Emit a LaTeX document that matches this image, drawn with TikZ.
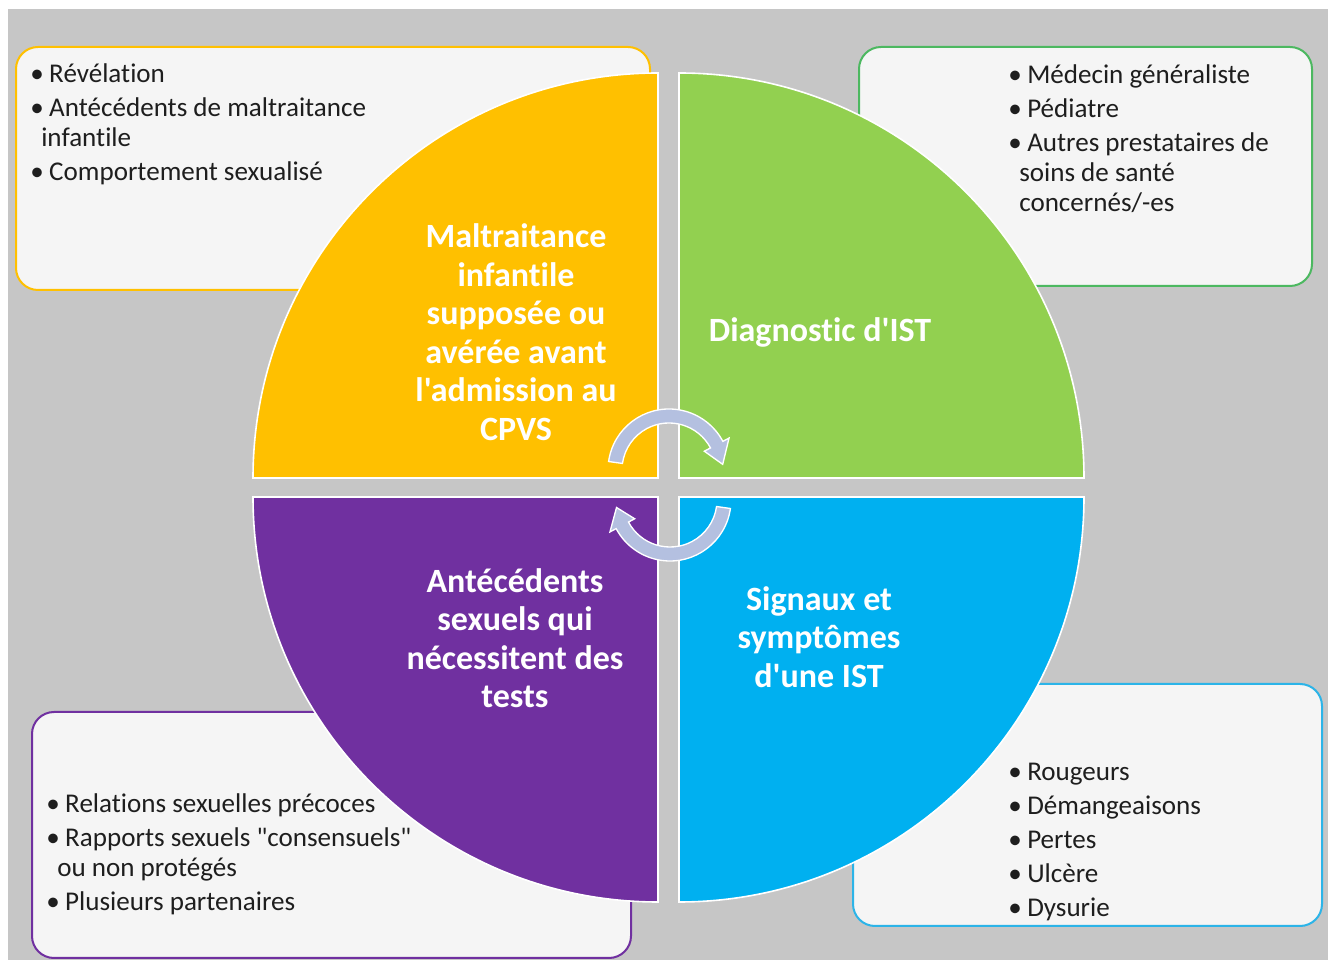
\documentclass[tikz,border=0pt]{standalone}
\usepackage{fontspec}
\setmainfont{Carlito}[Ligatures={TeXOff,CommonOff}]
\definecolor{bg}{HTML}{C6C6C6}
\definecolor{qy}{HTML}{FFC000}
\definecolor{qg}{HTML}{92D050}
\definecolor{qp}{HTML}{7030A0}
\definecolor{qb}{HTML}{00B0F0}
\definecolor{arr}{HTML}{B4C0E0}
\definecolor{boxfill}{HTML}{F5F5F5}
\definecolor{txt}{HTML}{1E1E1E}
\definecolor{bdy}{HTML}{FFC000}
\definecolor{bdg}{HTML}{4CB860}
\definecolor{bdb}{HTML}{2CB4E8}
\definecolor{bdp}{HTML}{7030A0}
\newcommand\itm[1]{\makebox[14.25pt][l]{\textbullet}#1}
\newcommand\cnt[1]{\hspace*{8.25pt}#1}
\newcommand\fst{\rule{0pt}{15pt}}
\begin{document}
\begin{tikzpicture}[x=0.75pt,y=0.75pt,
  box/.style={draw, line width=1.5pt, fill=boxfill, rounded corners=16.5pt},
  quad/.style={draw=white, line width=1.2pt},
  lbl/.style={text=white, font=\fontsize{25.5}{28.9}\selectfont\bfseries, align=center, inner sep=0},
  lst/.style={text=txt, font=\fontsize{20.3}{22.5}\selectfont, align=left, inner sep=0, anchor=north west},
  cyc/.style={fill=arr, draw=white, line width=1pt}]
\useasboundingbox (0,0) rectangle (1328,960);
\fill[white] (0,0) rectangle (1328,960);
\fill[bg] (8,0) rectangle (1328,951);
% boxes
\draw[box, draw=bdy] (16,670) rectangle (650,913);
\draw[box, draw=bdg] (859,674) rectangle (1312,913);
\draw[box, draw=bdb] (853,34) rectangle (1322,276);
\draw[box, draw=bdp] (32,2) rectangle (631,248);
% lists
\node[lst] (ltl) at (30,898) {\fst\itm{Révélation}\\[3pt]\itm{Antécédents de maltraitance}\\\cnt{infantile}\\[3pt]\itm{Comportement sexualisé}};
\node[lst] (ltr) at (1008,897) {\fst\itm{Médecin généraliste}\\[3pt]\itm{Pédiatre}\\[3pt]\itm{Autres prestataires de}\\\cnt{soins de santé}\\\cnt{concernés/-es}};
\node[lst] (lbr) at (1008,200) {\fst\itm{Rougeurs}\\[3pt]\itm{Démangeaisons}\\[3pt]\itm{Pertes}\\[3pt]\itm{Ulcère}\\[3pt]\itm{Dysurie}};
\node[lst] (lbl) at (46,168) {\fst\itm{Relations sexuelles précoces}\\[3pt]\itm{Rapports sexuels "consensuels"}\\\cnt{ou non protégés}\\[3pt]\itm{Plusieurs partenaires}};
% quadrants
\draw[quad, fill=qy] (658,482) -- (253,482) arc[start angle=180, end angle=90, radius=405] -- cycle;
\draw[quad, fill=qg] (679,482) -- (679,887) arc[start angle=90, end angle=0, radius=405] -- cycle;
\draw[quad, fill=qp] (658,463) -- (253,463) arc[start angle=180, end angle=270, radius=405] -- cycle;
\draw[quad, fill=qb] (679,463) -- (1084,463) arc[start angle=0, end angle=-90, radius=405] -- cycle;
% labels
\node[lbl] (ny) at (516,628) {Maltraitance\\infantile\\supposée ou\\avérée avant\\l'admission au\\CPVS};
\node[lbl] (ng) at (820,628) {Diagnostic d'IST};
\node[lbl] (nb) at (819,323) {Signaux et\\symptômes\\d'une IST};
\node[lbl] (np) at (515,322) {Antécédents\\sexuels qui\\nécessitent des\\tests};
% circular arrows
\begin{scope}[shift={(669,490)}]
\draw[cyc] (172:61) arc[start angle=172, end angle=28, radius=61] -- (28:68) -- (6:54) -- (28:40) -- (28:47) arc[start angle=28, end angle=172, radius=47] -- cycle;
\end{scope}
\begin{scope}[shift={(670,460)}]
\draw[cyc] (-8:61) arc[start angle=-8, end angle=-152, radius=61] -- (208:68) -- (188:54) -- (208:40) -- (208:47) arc[start angle=-152, end angle=-8, radius=47] -- cycle;
\end{scope}
\end{tikzpicture}
\end{document}
